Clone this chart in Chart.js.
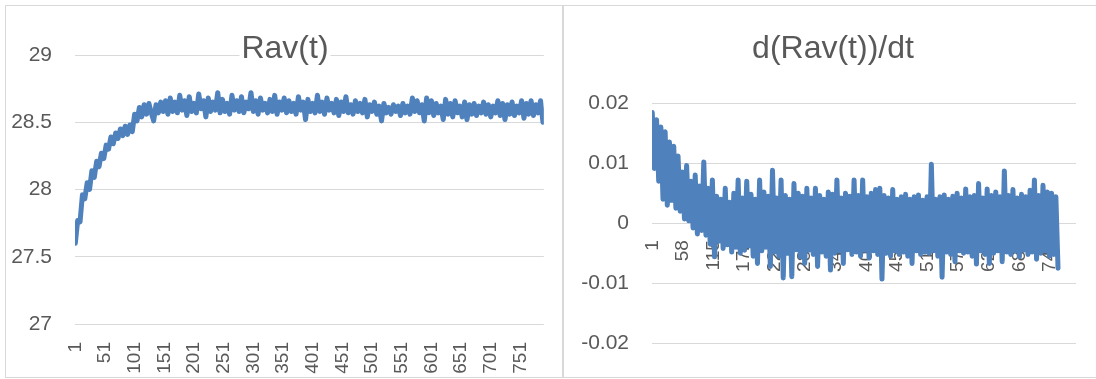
<!DOCTYPE html>
<html lang="en">
<head>
<meta charset="UTF-8">
<title>Rav(t) and d(Rav(t))/dt</title>
<script src="https://cdn.jsdelivr.net/npm/chart.js@4.4.0/dist/chart.umd.min.js"></script>
<style>
  body { margin:0; background:#fff; width:1096px; height:379px; overflow:hidden; position:relative;
         font-family:"Liberation Sans", Arial, sans-serif; }
  .frame { position:absolute; border:1px solid #d9d9d9; box-sizing:border-box; }
  #frameL { left:5px; top:5px; width:558px; height:373px; }
  #frameR { left:563px; top:5px; width:545px; height:373px; }
  canvas { position:absolute; top:0; }
  #chartL { left:0; }
  #chartR { left:563px; }
  .title { position:absolute; top:31px; height:32px; line-height:32px; font-size:32px; color:#595959;
           background:#fff; transform:translateX(-50%); white-space:nowrap; padding:0 2px; }
</style>
</head>
<body>
<div class="frame" id="frameL"></div>
<div class="frame" id="frameR"></div>
<canvas id="chartL" width="562" height="379"></canvas>
<canvas id="chartR" width="533" height="379"></canvas>
<div class="title" style="left:285px">Rav(t)</div>
<div class="title" style="left:833px">d(Rav(t))/dt</div>

<script>
// time steps on the category axis (1..790), one value kept every 4 steps
const nSteps = 790;
const sampleStep = 4;

// tick labels shown on the two x axes
const ravTicks = [1, 51, 101, 151, 201, 251, 301, 351, 401, 451, 501, 551, 601, 651, 701, 751];
const dRavTicks = [1, 58, 115, 172, 229, 286, 343, 400, 457, 514, 571, 628, 685, 742];

// Rav(t) (t = 1, 5, 9, ...)
const rav = [
  27.60, 27.77, 27.76, 27.96, 27.93, 28.05, 28.00, 28.14, 28.09, 28.21,
  28.17, 28.27, 28.23, 28.33, 28.30, 28.39, 28.34, 28.42, 28.38, 28.45,
  28.40, 28.47, 28.41, 28.48, 28.43, 28.56, 28.51, 28.61, 28.54, 28.63,
  28.56, 28.64, 28.57, 28.51, 28.63, 28.57, 28.65, 28.58, 28.66, 28.56,
  28.68, 28.58, 28.65, 28.57, 28.70, 28.59, 28.66, 28.55, 28.69, 28.58,
  28.64, 28.57, 28.71, 28.60, 28.66, 28.54, 28.68, 28.58, 28.65, 28.59,
  28.72, 28.57, 28.67, 28.58, 28.64, 28.56, 28.70, 28.59, 28.66, 28.58,
  28.69, 28.57, 28.65, 28.60, 28.72, 28.58, 28.66, 28.56, 28.68, 28.59,
  28.64, 28.57, 28.67, 28.58, 28.70, 28.56, 28.65, 28.59, 28.68, 28.57,
  28.66, 28.58, 28.64, 28.56, 28.69, 28.59, 28.65, 28.52, 28.67, 28.58,
  28.64, 28.57, 28.70, 28.58, 28.65, 28.56, 28.68, 28.59, 28.64, 28.57,
  28.67, 28.55, 28.65, 28.58, 28.69, 28.57, 28.63, 28.56, 28.66, 28.58,
  28.64, 28.57, 28.67, 28.54, 28.63, 28.58, 28.65, 28.56, 28.62, 28.51,
  28.64, 28.57, 28.61, 28.56, 28.63, 28.58, 28.62, 28.55, 28.64, 28.57,
  28.62, 28.56, 28.68, 28.58, 28.66, 28.57, 28.63, 28.51, 28.68, 28.57,
  28.66, 28.55, 28.64, 28.57, 28.62, 28.52, 28.67, 28.56, 28.64, 28.54,
  28.66, 28.57, 28.62, 28.54, 28.65, 28.52, 28.63, 28.56, 28.64, 28.55,
  28.62, 28.57, 28.65, 28.56, 28.63, 28.54, 28.62, 28.57, 28.66, 28.55,
  28.64, 28.52, 28.63, 28.56, 28.65, 28.55, 28.62, 28.57, 28.66, 28.53,
  28.64, 28.56, 28.66, 28.55, 28.63, 28.57, 28.66, 28.50
];

// d(Rav(t))/dt (t = 1, 5, 9, ...)
const dRav = [
  0.0184, 0.0091, 0.0172, 0.0070, 0.0160, 0.0040, 0.0152, 0.0030, 0.0135, 0.0038,
  0.0128, 0.0025, 0.0112, 0.0020, 0.0085, 0.0007, 0.0096, 0.0004, 0.0070, -0.0008,
  0.0080, -0.0018, 0.0062, -0.0012, 0.0102, -0.0020, 0.0058, -0.0035, 0.0072, -0.0056,
  0.0045, -0.0030, 0.0040, -0.0042, 0.0058, -0.0036, 0.0035, -0.0048, 0.0050, -0.0040,
  0.0072, -0.0050, 0.0042, -0.0045, 0.0070, -0.0038, 0.0048, -0.0055, 0.0040, -0.0067,
  0.0072, -0.0046, 0.0052, -0.0040, 0.0045, -0.0072, 0.0088, -0.0048, 0.0042, -0.0055,
  0.0072, -0.0091, 0.0046, -0.0050, 0.0040, -0.0089, 0.0066, -0.0044, 0.0050, -0.0056,
  0.0045, -0.0067, 0.0058, -0.0045, 0.0042, -0.0052, 0.0058, -0.0072, 0.0046, -0.0048,
  0.0040, -0.0055, 0.0052, -0.0078, 0.0048, -0.0050, 0.0072, -0.0046, 0.0042, -0.0067,
  0.0050, -0.0044, 0.0045, -0.0052, 0.0072, -0.0048, 0.0046, -0.0055, 0.0072, -0.0045,
  0.0044, -0.0058, 0.0050, -0.0046, 0.0056, -0.0052, 0.0058, -0.0093, 0.0046, -0.0050,
  0.0042, -0.0055, 0.0056, -0.0046, 0.0040, -0.0052, 0.0044, -0.0048, 0.0048, -0.0055,
  0.0040, -0.0067, 0.0044, -0.0046, 0.0047, -0.0052, 0.0038, -0.0048, 0.0044, -0.0050,
  0.0098, -0.0046, 0.0040, -0.0055, 0.0044, -0.0090, 0.0047, -0.0048, 0.0040, -0.0052,
  0.0045, -0.0064, 0.0050, -0.0046, 0.0042, -0.0050, 0.0057, -0.0048, 0.0044, -0.0055,
  0.0046, -0.0068, 0.0066, -0.0046, 0.0042, -0.0052, 0.0057, -0.0067, 0.0046, -0.0050,
  0.0052, -0.0046, 0.0044, -0.0064, 0.0087, -0.0048, 0.0046, -0.0052, 0.0056, -0.0046,
  0.0042, -0.0056, 0.0048, -0.0045, 0.0044, -0.0052, 0.0055, -0.0048, 0.0072, -0.0060,
  0.0046, -0.0050, 0.0063, -0.0046, 0.0052, -0.0055, 0.0050, -0.0052, 0.0044, -0.0075
];

const textColor = '#595959';
const gridColor = '#d9d9d9';
const lineColor = '#4f81bd';
const fontFamily = '"Liberation Sans", Arial, sans-serif';

function toPoints(values) {
  return values.map((v, i) => ({ x: 1 + i * sampleStep, y: v }));
}

function lineDataset(values) {
  return {
    data: toPoints(values),
    borderColor: lineColor,
    borderWidth: 5,
    borderJoinStyle: 'round',
    borderCapStyle: 'round',
    pointRadius: 0,
    tension: 0,
    fill: false
  };
}

function xTicks(list) {
  return scale => { scale.ticks = list.map(v => ({ value: v })); };
}

const common = {
  responsive: false,
  animation: false,
  plugins: { legend: { display: false }, tooltip: { enabled: false }, title: { display: false } }
};

new Chart(document.getElementById('chartL'), {
  type: 'line',
  data: { datasets: [lineDataset(rav)] },
  options: {
    ...common,
    layout: { padding: { top: 55, right: 16, bottom: 0, left: 0 } },
    scales: {
      x: {
        type: 'linear', min: 0.5, max: nSteps + 0.5,
        grid: { display: false, drawTicks: false },
        border: { display: false },
        afterBuildTicks: xTicks(ravTicks),
        afterFit: s => { s.height = 55; },
        ticks: { autoSkip: false, minRotation: 90, maxRotation: 90, padding: 18,
                 color: textColor, font: { family: fontFamily, size: 19 } }
      },
      y: {
        min: 27, max: 29,
        afterFit: s => { s.width = 75; },
        grid: { color: gridColor, drawTicks: false },
        border: { display: false },
        ticks: { stepSize: 0.5, padding: 23, color: textColor, font: { family: fontFamily, size: 21 },
                 callback: v => String(+v.toFixed(2)) }
      }
    }
  }
});

new Chart(document.getElementById('chartR'), {
  type: 'line',
  data: { datasets: [lineDataset(dRav)] },
  options: {
    ...common,
    layout: { padding: { top: 103, right: 20, bottom: 31, left: 0 } },
    scales: {
      x: {
        type: 'linear', min: 0.5, max: nSteps + 0.5,
        position: { y: 0 },
        z: 1,
        grid: { display: false, drawTicks: false },
        border: { display: false },
        afterBuildTicks: xTicks(dRavTicks),
        ticks: { autoSkip: false, minRotation: 90, maxRotation: 90, padding: 17,
                 color: textColor, font: { family: fontFamily, size: 19 } }
      },
      y: {
        min: -0.02, max: 0.02,
        afterFit: s => { s.width = 89; },
        grid: { color: gridColor, drawTicks: false },
        border: { display: false },
        ticks: { stepSize: 0.01, padding: 23, color: textColor, font: { family: fontFamily, size: 21 },
                 callback: v => String(+v.toFixed(3)) }
      }
    }
  }
});
</script>
</body>
</html>
